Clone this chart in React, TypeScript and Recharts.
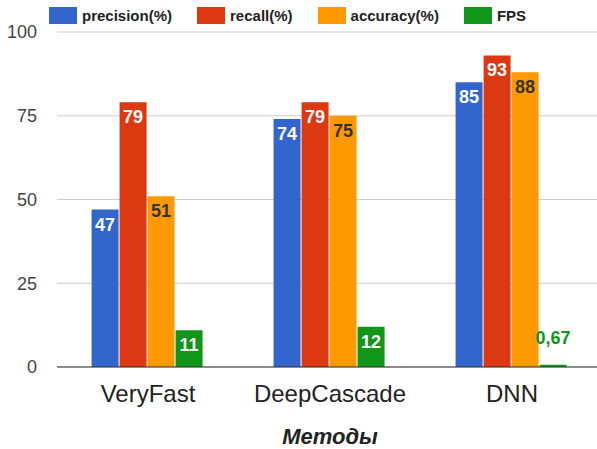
import { BarChart, Bar, XAxis, YAxis, CartesianGrid, Legend, LabelList } from 'recharts';

const categories = ['VeryFast', 'DeepCascade', 'DNN'];
const precision = [47, 74, 85];
const recall = [79, 79, 93];
const accuracy = [51, 75, 88];
const fps = [11, 12, 0.67];
const yTicks = [0, 25, 50, 75, 100];

const FONT = '"Liberation Sans", Arial, sans-serif';

const series = [
  { key: 'precision', name: 'precision(%)', color: '#3366cc', text: '#ffffff' },
  { key: 'recall', name: 'recall(%)', color: '#dc3912', text: '#ffffff' },
  { key: 'accuracy', name: 'accuracy(%)', color: '#ff9900', text: '#333333' },
  { key: 'fps', name: 'FPS', color: '#109618', text: '#ffffff' },
];
const seriesOrder = series.map((s) => s.name);

const data = categories.map((name, i) => ({
  name,
  precision: precision[i],
  recall: recall[i],
  accuracy: accuracy[i],
  fps: fps[i],
}));

const makeLabel = (textColor: string, barColor: string) => (props: any) => {
  const { x, y, width, height, value } = props;
  const inside = height > 26;
  return (
    <text
      x={x + width / 2}
      y={inside ? y + 21 : y - 21}
      textAnchor="middle"
      fontFamily={FONT}
      fontWeight="bold"
      fontSize={18}
      fill={inside ? textColor : barColor}
    >
      {String(value).replace('.', ',')}
    </text>
  );
};

const renderLegend = (props: any) => {
  const items = [...(props.payload || [])].sort(
    (a: any, b: any) => seriesOrder.indexOf(a.value) - seriesOrder.indexOf(b.value)
  );
  return (
    <div style={{ display: 'flex', alignItems: 'center', fontFamily: FONT }}>
      {items.map((entry: any) => (
        <div key={entry.value} style={{ display: 'flex', alignItems: 'center', marginRight: 25 }}>
          <span style={{ width: 28, height: 17, background: entry.color, display: 'inline-block' }} />
          <span style={{ marginLeft: 5, fontSize: 15, fontWeight: 'bold', color: '#222' }}>{entry.value}</span>
        </div>
      ))}
    </div>
  );
};

const renderAxisTitle = (props: any) => {
  const { viewBox } = props;
  return (
    <text
      x={viewBox.x + viewBox.width / 2}
      y={444}
      textAnchor="middle"
      fontFamily={FONT}
      fontWeight="bold"
      fontStyle="italic"
      fontSize={22}
      fill="#222"
    >
      Методы
    </text>
  );
};

export default function App() {
  return (
    <div style={{ position: 'absolute', left: 0, top: 0, width: 597, height: 449, overflow: 'hidden', background: '#fff' }}>
      <BarChart
        width={603}
        height={449}
        data={data}
        margin={{ top: 32, right: 0, bottom: 0, left: 0 }}
        barCategoryGap="19%"
        barGap={1}
      >
        <CartesianGrid vertical={false} stroke="#cccccc" />
        <XAxis
          dataKey="name"
          height={82}
          tickLine={false}
          tickSize={0}
          tickMargin={18}
          axisLine={{ stroke: '#333333' }}
          tick={{ fontFamily: FONT, fontSize: 24, fill: '#222' }}
          label={{ content: renderAxisTitle }}
        />
        <YAxis
          width={57}
          domain={[0, 100]}
          ticks={yTicks}
          axisLine={false}
          tickLine={false}
          tickSize={0}
          tickMargin={20}
          tick={{ fontFamily: FONT, fontSize: 18, fill: '#444' }}
        />
        <Legend
          verticalAlign="middle"
          align="center"
          content={renderLegend}
          wrapperStyle={{ position: 'absolute', left: 49, top: 7, width: 560 }}
        />
        {series.map((s) => (
          <Bar key={s.key} dataKey={s.key} name={s.name} fill={s.color} isAnimationActive={false}>
            <LabelList dataKey={s.key} content={makeLabel(s.text, s.color)} />
          </Bar>
        ))}
      </BarChart>
    </div>
  );
}
